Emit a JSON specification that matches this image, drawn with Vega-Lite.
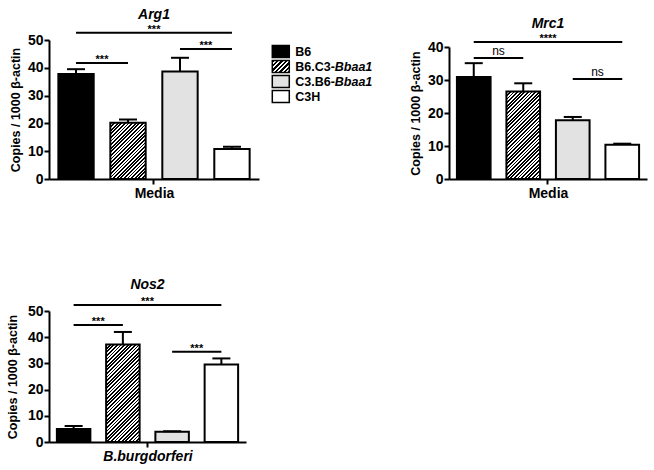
{
"$schema": "https://vega.github.io/schema/vega-lite/v6.json",
"background": "white",
"padding": {"left": 6, "top": 7, "right": 2, "bottom": 2},
"config": {
 "font": "Liberation Sans",
 "view": {"stroke": null},
 "axis": {"grid": false, "labelOverlap": false, "labelFlush": false, "domainColor": "black", "domainWidth": 2, "tickColor": "black", "tickWidth": 2, "tickSize": 5, "labelColor": "black", "labelFontSize": 14, "labelFontWeight": "bold", "labelFont": "Liberation Sans", "titleColor": "black", "titleFont": "Liberation Sans", "titleFontWeight": "bold"},
 "axisY": {"titleFontSize": 12.5, "titlePadding": 5, "labelPadding": 1},
 "axisX": {"titleFontSize": 14, "titlePadding": 1, "labels": false},
 "title": {"font": "Liberation Sans", "fontSize": 14, "fontWeight": "bold", "fontStyle": "italic", "color": "black", "frame": "group", "anchor": "middle"}
},
"datasets": {
 "bars": [
  {"gene": "Arg1", "genotype": "B6", "mean": 37.8, "hi": 39.5},
  {"gene": "Arg1", "genotype": "B6.C3-Bbaa1", "mean": 20.2, "hi": 21.4},
  {"gene": "Arg1", "genotype": "C3.B6-Bbaa1", "mean": 38.7, "hi": 43.6},
  {"gene": "Arg1", "genotype": "C3H", "mean": 10.8, "hi": 11.6},
  {"gene": "Mrc1", "genotype": "B6", "mean": 30.9, "hi": 35.1},
  {"gene": "Mrc1", "genotype": "B6.C3-Bbaa1", "mean": 26.5, "hi": 29.0},
  {"gene": "Mrc1", "genotype": "C3.B6-Bbaa1", "mean": 17.8, "hi": 18.8},
  {"gene": "Mrc1", "genotype": "C3H", "mean": 10.4, "hi": 10.7},
  {"gene": "Nos2", "genotype": "B6", "mean": 5.0, "hi": 6.1},
  {"gene": "Nos2", "genotype": "B6.C3-Bbaa1", "mean": 37.2, "hi": 42.0},
  {"gene": "Nos2", "genotype": "C3.B6-Bbaa1", "mean": 3.9, "hi": 4.1},
  {"gene": "Nos2", "genotype": "C3H", "mean": 29.6, "hi": 31.9}
 ],
 "sig": [
  {"gene": "Arg1", "from": "B6", "to": "B6.C3-Bbaa1", "level": 41.7, "label": "***"},
  {"gene": "Arg1", "from": "B6", "to": "C3H", "level": 52.6, "label": "***"},
  {"gene": "Arg1", "from": "C3.B6-Bbaa1", "to": "C3H", "level": 46.8, "label": "***"},
  {"gene": "Mrc1", "from": "B6", "to": "B6.C3-Bbaa1", "level": 36.7, "label": "ns"},
  {"gene": "Mrc1", "from": "B6", "to": "C3H", "level": 41.5, "label": "****"},
  {"gene": "Mrc1", "from": "C3.B6-Bbaa1", "to": "C3H", "level": 30.3, "label": "ns"},
  {"gene": "Nos2", "from": "B6", "to": "B6.C3-Bbaa1", "level": 44.7, "label": "***"},
  {"gene": "Nos2", "from": "B6", "to": "C3H", "level": 52.3, "label": "***"},
  {"gene": "Nos2", "from": "C3.B6-Bbaa1", "to": "C3H", "level": 34.4, "label": "***"}
 ],
 "legend": [
  {"genotype": "B6", "rank": 0, "prefix": "B6", "suffix": ""},
  {"genotype": "B6.C3-Bbaa1", "rank": 1, "prefix": "B6.C3-", "suffix": "Bbaa1"},
  {"genotype": "C3.B6-Bbaa1", "rank": 2, "prefix": "C3.B6-", "suffix": "Bbaa1"},
  {"genotype": "C3H", "rank": 3, "prefix": "C3H", "suffix": ""}
 ]
},
"spacing": 77,
"vconcat": [
 {
  "columns": 3,
  "align": "none",
  "spacing": 10,
  "concat": [
   {
    "width": 210, "height": 139,
    "title": {"text": "Arg1", "offset": 2},
    "layer": [
     {
      "data": {"name": "bars"}, "transform": [{"filter": "datum.gene === 'Arg1'"}],
      "mark": {"type": "bar", "stroke": "black", "strokeWidth": 2},
      "encoding": {
       "x": {"field": "genotype", "type": "nominal", "scale": {"domain": ["B6", "B6.C3-Bbaa1", "C3.B6-Bbaa1", "C3H"], "paddingInner": 0.32, "paddingOuter": 0.18}, "axis": {"title": "Media", "values": ["B6.C3-Bbaa1"], "bandPosition": 1.235}},
       "y": {"field": "mean", "type": "quantitative", "scale": {"domain": [0, 50], "nice": false}, "axis": {"title": "Copies / 1000 β-actin", "values": [0, 10, 20, 30, 40, 50]}},
       "fill": {"condition": [
        {"test": "datum.genotype === 'B6'", "value": "black"},
        {"test": "datum.genotype === 'B6.C3-Bbaa1'", "value": {"gradient": "linear", "x1": 0, "y1": 0, "x2": 1.156, "y2": 1.834, "stops": [{"offset":0,"color":"#000"},{"offset":0.0125,"color":"#000"},{"offset":0.0125,"color":"#fff"},{"offset":0.025,"color":"#fff"},{"offset":0.025,"color":"#000"},{"offset":0.0375,"color":"#000"},{"offset":0.0375,"color":"#fff"},{"offset":0.05,"color":"#fff"},{"offset":0.05,"color":"#000"},{"offset":0.0625,"color":"#000"},{"offset":0.0625,"color":"#fff"},{"offset":0.075,"color":"#fff"},{"offset":0.075,"color":"#000"},{"offset":0.0875,"color":"#000"},{"offset":0.0875,"color":"#fff"},{"offset":0.1,"color":"#fff"},{"offset":0.1,"color":"#000"},{"offset":0.1125,"color":"#000"},{"offset":0.1125,"color":"#fff"},{"offset":0.125,"color":"#fff"},{"offset":0.125,"color":"#000"},{"offset":0.1375,"color":"#000"},{"offset":0.1375,"color":"#fff"},{"offset":0.15,"color":"#fff"},{"offset":0.15,"color":"#000"},{"offset":0.1625,"color":"#000"},{"offset":0.1625,"color":"#fff"},{"offset":0.175,"color":"#fff"},{"offset":0.175,"color":"#000"},{"offset":0.1875,"color":"#000"},{"offset":0.1875,"color":"#fff"},{"offset":0.2,"color":"#fff"},{"offset":0.2,"color":"#000"},{"offset":0.2125,"color":"#000"},{"offset":0.2125,"color":"#fff"},{"offset":0.225,"color":"#fff"},{"offset":0.225,"color":"#000"},{"offset":0.2375,"color":"#000"},{"offset":0.2375,"color":"#fff"},{"offset":0.25,"color":"#fff"},{"offset":0.25,"color":"#000"},{"offset":0.2625,"color":"#000"},{"offset":0.2625,"color":"#fff"},{"offset":0.275,"color":"#fff"},{"offset":0.275,"color":"#000"},{"offset":0.2875,"color":"#000"},{"offset":0.2875,"color":"#fff"},{"offset":0.3,"color":"#fff"},{"offset":0.3,"color":"#000"},{"offset":0.3125,"color":"#000"},{"offset":0.3125,"color":"#fff"},{"offset":0.325,"color":"#fff"},{"offset":0.325,"color":"#000"},{"offset":0.3375,"color":"#000"},{"offset":0.3375,"color":"#fff"},{"offset":0.35,"color":"#fff"},{"offset":0.35,"color":"#000"},{"offset":0.3625,"color":"#000"},{"offset":0.3625,"color":"#fff"},{"offset":0.375,"color":"#fff"},{"offset":0.375,"color":"#000"},{"offset":0.3875,"color":"#000"},{"offset":0.3875,"color":"#fff"},{"offset":0.4,"color":"#fff"},{"offset":0.4,"color":"#000"},{"offset":0.4125,"color":"#000"},{"offset":0.4125,"color":"#fff"},{"offset":0.425,"color":"#fff"},{"offset":0.425,"color":"#000"},{"offset":0.4375,"color":"#000"},{"offset":0.4375,"color":"#fff"},{"offset":0.45,"color":"#fff"},{"offset":0.45,"color":"#000"},{"offset":0.4625,"color":"#000"},{"offset":0.4625,"color":"#fff"},{"offset":0.475,"color":"#fff"},{"offset":0.475,"color":"#000"},{"offset":0.4875,"color":"#000"},{"offset":0.4875,"color":"#fff"},{"offset":0.5,"color":"#fff"},{"offset":0.5,"color":"#000"},{"offset":0.5125,"color":"#000"},{"offset":0.5125,"color":"#fff"},{"offset":0.525,"color":"#fff"},{"offset":0.525,"color":"#000"},{"offset":0.5375,"color":"#000"},{"offset":0.5375,"color":"#fff"},{"offset":0.55,"color":"#fff"},{"offset":0.55,"color":"#000"},{"offset":0.5625,"color":"#000"},{"offset":0.5625,"color":"#fff"},{"offset":0.575,"color":"#fff"},{"offset":0.575,"color":"#000"},{"offset":0.5875,"color":"#000"},{"offset":0.5875,"color":"#fff"},{"offset":0.6,"color":"#fff"},{"offset":0.6,"color":"#000"},{"offset":0.6125,"color":"#000"},{"offset":0.6125,"color":"#fff"},{"offset":0.625,"color":"#fff"},{"offset":0.625,"color":"#000"},{"offset":0.6375,"color":"#000"},{"offset":0.6375,"color":"#fff"},{"offset":0.65,"color":"#fff"},{"offset":0.65,"color":"#000"},{"offset":0.6625,"color":"#000"},{"offset":0.6625,"color":"#fff"},{"offset":0.675,"color":"#fff"},{"offset":0.675,"color":"#000"},{"offset":0.6875,"color":"#000"},{"offset":0.6875,"color":"#fff"},{"offset":0.7,"color":"#fff"},{"offset":0.7,"color":"#000"},{"offset":0.7125,"color":"#000"},{"offset":0.7125,"color":"#fff"},{"offset":0.725,"color":"#fff"},{"offset":0.725,"color":"#000"},{"offset":0.7375,"color":"#000"},{"offset":0.7375,"color":"#fff"},{"offset":0.75,"color":"#fff"},{"offset":0.75,"color":"#000"},{"offset":0.7625,"color":"#000"},{"offset":0.7625,"color":"#fff"},{"offset":0.775,"color":"#fff"},{"offset":0.775,"color":"#000"},{"offset":0.7875,"color":"#000"},{"offset":0.7875,"color":"#fff"},{"offset":0.8,"color":"#fff"},{"offset":0.8,"color":"#000"},{"offset":0.8125,"color":"#000"},{"offset":0.8125,"color":"#fff"},{"offset":0.825,"color":"#fff"},{"offset":0.825,"color":"#000"},{"offset":0.8375,"color":"#000"},{"offset":0.8375,"color":"#fff"},{"offset":0.85,"color":"#fff"},{"offset":0.85,"color":"#000"},{"offset":0.8625,"color":"#000"},{"offset":0.8625,"color":"#fff"},{"offset":0.875,"color":"#fff"},{"offset":0.875,"color":"#000"},{"offset":0.8875,"color":"#000"},{"offset":0.8875,"color":"#fff"},{"offset":0.9,"color":"#fff"},{"offset":0.9,"color":"#000"},{"offset":0.9125,"color":"#000"},{"offset":0.9125,"color":"#fff"},{"offset":0.925,"color":"#fff"},{"offset":0.925,"color":"#000"},{"offset":0.9375,"color":"#000"},{"offset":0.9375,"color":"#fff"},{"offset":0.95,"color":"#fff"},{"offset":0.95,"color":"#000"},{"offset":0.9625,"color":"#000"},{"offset":0.9625,"color":"#fff"},{"offset":0.975,"color":"#fff"},{"offset":0.975,"color":"#000"},{"offset":0.9875,"color":"#000"},{"offset":0.9875,"color":"#fff"},{"offset":1,"color":"#fff"}]}},
        {"test": "datum.genotype === 'C3.B6-Bbaa1'", "value": "#e2e2e2"}
       ], "value": "white"}
      }
     },
     {
      "data": {"name": "bars"}, "transform": [{"filter": "datum.gene === 'Arg1'"}],
      "mark": {"type": "rule", "strokeWidth": 2, "color": "black"},
      "encoding": {
       "x": {"field": "genotype", "type": "nominal", "scale": {"domain": ["B6", "B6.C3-Bbaa1", "C3.B6-Bbaa1", "C3H"]}, "axis": {"title": "Media", "values": ["B6.C3-Bbaa1"], "bandPosition": 1.235}},
       "y": {"field": "mean", "type": "quantitative", "scale": {"domain": [0, 50]}, "axis": {"title": "Copies / 1000 β-actin", "values": [0, 10, 20, 30, 40, 50]}},
       "y2": {"field": "hi"}
      }
     },
     {
      "data": {"name": "bars"}, "transform": [{"filter": "datum.gene === 'Arg1'"}],
      "mark": {"type": "tick", "orient": "horizontal", "size": 18, "thickness": 2, "color": "black", "opacity": 1},
      "encoding": {
       "x": {"field": "genotype", "type": "nominal", "scale": {"domain": ["B6", "B6.C3-Bbaa1", "C3.B6-Bbaa1", "C3H"]}, "axis": {"title": "Media", "values": ["B6.C3-Bbaa1"], "bandPosition": 1.235}},
       "y": {"field": "hi", "type": "quantitative", "scale": {"domain": [0, 50]}, "axis": {"title": "Copies / 1000 β-actin", "values": [0, 10, 20, 30, 40, 50]}}
      }
     },
     {
      "data": {"name": "sig"}, "transform": [{"filter": "datum.gene === 'Arg1'"}],
      "mark": {"type": "rule", "strokeWidth": 2, "color": "black"},
      "encoding": {
       "x": {"field": "from", "type": "nominal", "scale": {"domain": ["B6", "B6.C3-Bbaa1", "C3.B6-Bbaa1", "C3H"]}, "axis": {"title": "Media", "values": ["B6.C3-Bbaa1"], "bandPosition": 1.235}},
       "x2": {"field": "to"},
       "y": {"field": "level", "type": "quantitative", "scale": {"domain": [0, 50]}, "axis": {"title": "Copies / 1000 β-actin", "values": [0, 10, 20, 30, 40, 50]}}
      }
     },
     {
      "data": {"name": "sig"}, "transform": [{"filter": "datum.gene === 'Arg1' && datum.to !== 'C3H' || datum.gene === 'Arg1' && datum.from !== 'B6'"}],
      "mark": {"type": "text", "fontSize": 11, "fontWeight": "bold", "baseline": "alphabetic", "dy": 0, "color": "black"},
      "encoding": {
       "x": {"field": "from", "type": "nominal", "bandPosition": 1.235, "scale": {"domain": ["B6", "B6.C3-Bbaa1", "C3.B6-Bbaa1", "C3H"]}, "axis": {"title": "Media", "values": ["B6.C3-Bbaa1"], "bandPosition": 1.235}},
       "y": {"field": "level", "type": "quantitative", "scale": {"domain": [0, 50]}, "axis": {"title": "Copies / 1000 β-actin", "values": [0, 10, 20, 30, 40, 50]}},
       "text": {"field": "label"}
      }
     },
     {
      "data": {"name": "sig"}, "transform": [{"filter": "datum.gene === 'Arg1' && datum.from === 'B6' && datum.to === 'C3H'"}],
      "mark": {"type": "text", "fontSize": 11, "fontWeight": "bold", "baseline": "alphabetic", "dy": 0, "color": "black"},
      "encoding": {
       "x": {"field": "from", "type": "nominal", "bandPosition": 2.706, "scale": {"domain": ["B6", "B6.C3-Bbaa1", "C3.B6-Bbaa1", "C3H"]}, "axis": {"title": "Media", "values": ["B6.C3-Bbaa1"], "bandPosition": 1.235}},
       "y": {"field": "level", "type": "quantitative", "scale": {"domain": [0, 50]}, "axis": {"title": "Copies / 1000 β-actin", "values": [0, 10, 20, 30, 40, 50]}},
       "text": {"field": "label"}
      }
     }
    ]
   },
   {
    "width": 127, "height": 136,
    "data": {"name": "legend"},
    "encoding": {"y": {"field": "rank", "type": "quantitative", "scale": {"domain": [-0.767, 8.3], "reverse": true, "nice": false, "zero": false}, "axis": null}},
    "layer": [
     {
      "mark": {"type": "point", "shape": "M-1,-0.7H1V0.7H-1Z", "size": 289, "filled": true, "opacity": 1, "stroke": "black", "strokeWidth": 1.5},
      "encoding": {
       "x": {"datum": 9, "type": "quantitative", "scale": {"domain": [0, 127]}, "axis": null},
       "fill": {"condition": [
        {"test": "datum.genotype === 'B6'", "value": "black"},
        {"test": "datum.genotype === 'B6.C3-Bbaa1'", "value": {"gradient": "linear", "x1": 0, "y1": 0, "x2": 1.767, "y2": 1.247, "stops": [{"offset":0,"color":"#000"},{"offset":0.05,"color":"#000"},{"offset":0.05,"color":"#fff"},{"offset":0.1,"color":"#fff"},{"offset":0.1,"color":"#000"},{"offset":0.15,"color":"#000"},{"offset":0.15,"color":"#fff"},{"offset":0.2,"color":"#fff"},{"offset":0.2,"color":"#000"},{"offset":0.25,"color":"#000"},{"offset":0.25,"color":"#fff"},{"offset":0.3,"color":"#fff"},{"offset":0.3,"color":"#000"},{"offset":0.35,"color":"#000"},{"offset":0.35,"color":"#fff"},{"offset":0.4,"color":"#fff"},{"offset":0.4,"color":"#000"},{"offset":0.45,"color":"#000"},{"offset":0.45,"color":"#fff"},{"offset":0.5,"color":"#fff"},{"offset":0.5,"color":"#000"},{"offset":0.55,"color":"#000"},{"offset":0.55,"color":"#fff"},{"offset":0.6,"color":"#fff"},{"offset":0.6,"color":"#000"},{"offset":0.65,"color":"#000"},{"offset":0.65,"color":"#fff"},{"offset":0.7,"color":"#fff"},{"offset":0.7,"color":"#000"},{"offset":0.75,"color":"#000"},{"offset":0.75,"color":"#fff"},{"offset":0.8,"color":"#fff"},{"offset":0.8,"color":"#000"},{"offset":0.85,"color":"#000"},{"offset":0.85,"color":"#fff"},{"offset":0.9,"color":"#fff"},{"offset":0.9,"color":"#000"},{"offset":0.95,"color":"#000"},{"offset":0.95,"color":"#fff"},{"offset":1,"color":"#fff"}]}},
        {"test": "datum.genotype === 'C3.B6-Bbaa1'", "value": "#e2e2e2"}
       ], "value": "white"}
      }
     },
     {
      "mark": {"type": "text", "align": "left", "dx": 14.5, "fontSize": 12.5, "fontWeight": "bold", "color": "black"},
      "encoding": {"x": {"datum": 9, "type": "quantitative"}, "text": {"field": "prefix"}}
     },
     {
      "mark": {"type": "text", "align": "left", "dx": 54, "fontSize": 12.5, "fontWeight": "bold", "fontStyle": "italic", "color": "black"},
      "encoding": {"x": {"datum": 9, "type": "quantitative"}, "text": {"field": "suffix"}}
     }
    ]
   },
   {
    "width": 198, "height": 139,
    "title": {"text": "Mrc1", "offset": 2},
    "layer": [
     {
      "data": {"name": "bars"}, "transform": [{"filter": "datum.gene === 'Mrc1'"}],
      "mark": {"type": "bar", "stroke": "black", "strokeWidth": 2},
      "encoding": {
       "x": {"field": "genotype", "type": "nominal", "scale": {"domain": ["B6", "B6.C3-Bbaa1", "C3.B6-Bbaa1", "C3H"], "paddingInner": 0.32, "paddingOuter": 0.16}, "axis": {"title": "Media", "values": ["B6.C3-Bbaa1"], "bandPosition": 1.235}},
       "y": {"field": "mean", "type": "quantitative", "scale": {"domain": [0, 40], "range": [139, 7], "nice": false}, "axis": {"title": "Copies / 1000 β-actin", "values": [0, 10, 20, 30, 40]}},
       "fill": {"condition": [
        {"test": "datum.genotype === 'B6'", "value": "black"},
        {"test": "datum.genotype === 'B6.C3-Bbaa1'", "value": {"gradient": "linear", "x1": 0, "y1": 0, "x2": 0.552, "y2": 1.434, "stops": [{"offset":0,"color":"#000"},{"offset":0.0125,"color":"#000"},{"offset":0.0125,"color":"#fff"},{"offset":0.025,"color":"#fff"},{"offset":0.025,"color":"#000"},{"offset":0.0375,"color":"#000"},{"offset":0.0375,"color":"#fff"},{"offset":0.05,"color":"#fff"},{"offset":0.05,"color":"#000"},{"offset":0.0625,"color":"#000"},{"offset":0.0625,"color":"#fff"},{"offset":0.075,"color":"#fff"},{"offset":0.075,"color":"#000"},{"offset":0.0875,"color":"#000"},{"offset":0.0875,"color":"#fff"},{"offset":0.1,"color":"#fff"},{"offset":0.1,"color":"#000"},{"offset":0.1125,"color":"#000"},{"offset":0.1125,"color":"#fff"},{"offset":0.125,"color":"#fff"},{"offset":0.125,"color":"#000"},{"offset":0.1375,"color":"#000"},{"offset":0.1375,"color":"#fff"},{"offset":0.15,"color":"#fff"},{"offset":0.15,"color":"#000"},{"offset":0.1625,"color":"#000"},{"offset":0.1625,"color":"#fff"},{"offset":0.175,"color":"#fff"},{"offset":0.175,"color":"#000"},{"offset":0.1875,"color":"#000"},{"offset":0.1875,"color":"#fff"},{"offset":0.2,"color":"#fff"},{"offset":0.2,"color":"#000"},{"offset":0.2125,"color":"#000"},{"offset":0.2125,"color":"#fff"},{"offset":0.225,"color":"#fff"},{"offset":0.225,"color":"#000"},{"offset":0.2375,"color":"#000"},{"offset":0.2375,"color":"#fff"},{"offset":0.25,"color":"#fff"},{"offset":0.25,"color":"#000"},{"offset":0.2625,"color":"#000"},{"offset":0.2625,"color":"#fff"},{"offset":0.275,"color":"#fff"},{"offset":0.275,"color":"#000"},{"offset":0.2875,"color":"#000"},{"offset":0.2875,"color":"#fff"},{"offset":0.3,"color":"#fff"},{"offset":0.3,"color":"#000"},{"offset":0.3125,"color":"#000"},{"offset":0.3125,"color":"#fff"},{"offset":0.325,"color":"#fff"},{"offset":0.325,"color":"#000"},{"offset":0.3375,"color":"#000"},{"offset":0.3375,"color":"#fff"},{"offset":0.35,"color":"#fff"},{"offset":0.35,"color":"#000"},{"offset":0.3625,"color":"#000"},{"offset":0.3625,"color":"#fff"},{"offset":0.375,"color":"#fff"},{"offset":0.375,"color":"#000"},{"offset":0.3875,"color":"#000"},{"offset":0.3875,"color":"#fff"},{"offset":0.4,"color":"#fff"},{"offset":0.4,"color":"#000"},{"offset":0.4125,"color":"#000"},{"offset":0.4125,"color":"#fff"},{"offset":0.425,"color":"#fff"},{"offset":0.425,"color":"#000"},{"offset":0.4375,"color":"#000"},{"offset":0.4375,"color":"#fff"},{"offset":0.45,"color":"#fff"},{"offset":0.45,"color":"#000"},{"offset":0.4625,"color":"#000"},{"offset":0.4625,"color":"#fff"},{"offset":0.475,"color":"#fff"},{"offset":0.475,"color":"#000"},{"offset":0.4875,"color":"#000"},{"offset":0.4875,"color":"#fff"},{"offset":0.5,"color":"#fff"},{"offset":0.5,"color":"#000"},{"offset":0.5125,"color":"#000"},{"offset":0.5125,"color":"#fff"},{"offset":0.525,"color":"#fff"},{"offset":0.525,"color":"#000"},{"offset":0.5375,"color":"#000"},{"offset":0.5375,"color":"#fff"},{"offset":0.55,"color":"#fff"},{"offset":0.55,"color":"#000"},{"offset":0.5625,"color":"#000"},{"offset":0.5625,"color":"#fff"},{"offset":0.575,"color":"#fff"},{"offset":0.575,"color":"#000"},{"offset":0.5875,"color":"#000"},{"offset":0.5875,"color":"#fff"},{"offset":0.6,"color":"#fff"},{"offset":0.6,"color":"#000"},{"offset":0.6125,"color":"#000"},{"offset":0.6125,"color":"#fff"},{"offset":0.625,"color":"#fff"},{"offset":0.625,"color":"#000"},{"offset":0.6375,"color":"#000"},{"offset":0.6375,"color":"#fff"},{"offset":0.65,"color":"#fff"},{"offset":0.65,"color":"#000"},{"offset":0.6625,"color":"#000"},{"offset":0.6625,"color":"#fff"},{"offset":0.675,"color":"#fff"},{"offset":0.675,"color":"#000"},{"offset":0.6875,"color":"#000"},{"offset":0.6875,"color":"#fff"},{"offset":0.7,"color":"#fff"},{"offset":0.7,"color":"#000"},{"offset":0.7125,"color":"#000"},{"offset":0.7125,"color":"#fff"},{"offset":0.725,"color":"#fff"},{"offset":0.725,"color":"#000"},{"offset":0.7375,"color":"#000"},{"offset":0.7375,"color":"#fff"},{"offset":0.75,"color":"#fff"},{"offset":0.75,"color":"#000"},{"offset":0.7625,"color":"#000"},{"offset":0.7625,"color":"#fff"},{"offset":0.775,"color":"#fff"},{"offset":0.775,"color":"#000"},{"offset":0.7875,"color":"#000"},{"offset":0.7875,"color":"#fff"},{"offset":0.8,"color":"#fff"},{"offset":0.8,"color":"#000"},{"offset":0.8125,"color":"#000"},{"offset":0.8125,"color":"#fff"},{"offset":0.825,"color":"#fff"},{"offset":0.825,"color":"#000"},{"offset":0.8375,"color":"#000"},{"offset":0.8375,"color":"#fff"},{"offset":0.85,"color":"#fff"},{"offset":0.85,"color":"#000"},{"offset":0.8625,"color":"#000"},{"offset":0.8625,"color":"#fff"},{"offset":0.875,"color":"#fff"},{"offset":0.875,"color":"#000"},{"offset":0.8875,"color":"#000"},{"offset":0.8875,"color":"#fff"},{"offset":0.9,"color":"#fff"},{"offset":0.9,"color":"#000"},{"offset":0.9125,"color":"#000"},{"offset":0.9125,"color":"#fff"},{"offset":0.925,"color":"#fff"},{"offset":0.925,"color":"#000"},{"offset":0.9375,"color":"#000"},{"offset":0.9375,"color":"#fff"},{"offset":0.95,"color":"#fff"},{"offset":0.95,"color":"#000"},{"offset":0.9625,"color":"#000"},{"offset":0.9625,"color":"#fff"},{"offset":0.975,"color":"#fff"},{"offset":0.975,"color":"#000"},{"offset":0.9875,"color":"#000"},{"offset":0.9875,"color":"#fff"},{"offset":1,"color":"#fff"}]}},
        {"test": "datum.genotype === 'C3.B6-Bbaa1'", "value": "#e2e2e2"}
       ], "value": "white"}
      }
     },
     {
      "data": {"name": "bars"}, "transform": [{"filter": "datum.gene === 'Mrc1'"}],
      "mark": {"type": "rule", "strokeWidth": 2, "color": "black"},
      "encoding": {
       "x": {"field": "genotype", "type": "nominal", "scale": {"domain": ["B6", "B6.C3-Bbaa1", "C3.B6-Bbaa1", "C3H"]}, "axis": {"title": "Media", "values": ["B6.C3-Bbaa1"], "bandPosition": 1.235}},
       "y": {"field": "mean", "type": "quantitative", "scale": {"domain": [0, 40], "range": [139, 7]}, "axis": {"title": "Copies / 1000 β-actin", "values": [0, 10, 20, 30, 40]}},
       "y2": {"field": "hi"}
      }
     },
     {
      "data": {"name": "bars"}, "transform": [{"filter": "datum.gene === 'Mrc1'"}],
      "mark": {"type": "tick", "orient": "horizontal", "size": 18, "thickness": 2, "color": "black", "opacity": 1},
      "encoding": {
       "x": {"field": "genotype", "type": "nominal", "scale": {"domain": ["B6", "B6.C3-Bbaa1", "C3.B6-Bbaa1", "C3H"]}, "axis": {"title": "Media", "values": ["B6.C3-Bbaa1"], "bandPosition": 1.235}},
       "y": {"field": "hi", "type": "quantitative", "scale": {"domain": [0, 40], "range": [139, 7]}, "axis": {"title": "Copies / 1000 β-actin", "values": [0, 10, 20, 30, 40]}}
      }
     },
     {
      "data": {"name": "sig"}, "transform": [{"filter": "datum.gene === 'Mrc1'"}],
      "mark": {"type": "rule", "strokeWidth": 2, "color": "black"},
      "encoding": {
       "x": {"field": "from", "type": "nominal", "scale": {"domain": ["B6", "B6.C3-Bbaa1", "C3.B6-Bbaa1", "C3H"]}, "axis": {"title": "Media", "values": ["B6.C3-Bbaa1"], "bandPosition": 1.235}},
       "x2": {"field": "to"},
       "y": {"field": "level", "type": "quantitative", "scale": {"domain": [0, 40], "range": [139, 7]}, "axis": {"title": "Copies / 1000 β-actin", "values": [0, 10, 20, 30, 40]}}
      }
     },
     {
      "data": {"name": "sig"}, "transform": [{"filter": "datum.gene === 'Mrc1' && datum.label === 'ns'"}],
      "mark": {"type": "text", "fontSize": 12, "baseline": "alphabetic", "dy": -3, "color": "black"},
      "encoding": {
       "x": {"field": "from", "type": "nominal", "bandPosition": 1.235, "scale": {"domain": ["B6", "B6.C3-Bbaa1", "C3.B6-Bbaa1", "C3H"]}, "axis": {"title": "Media", "values": ["B6.C3-Bbaa1"], "bandPosition": 1.235}},
       "y": {"field": "level", "type": "quantitative", "scale": {"domain": [0, 40], "range": [139, 7]}, "axis": {"title": "Copies / 1000 β-actin", "values": [0, 10, 20, 30, 40]}},
       "text": {"field": "label"}
      }
     },
     {
      "data": {"name": "sig"}, "transform": [{"filter": "datum.gene === 'Mrc1' && datum.from === 'B6' && datum.to === 'C3H'"}],
      "mark": {"type": "text", "fontSize": 11, "fontWeight": "bold", "baseline": "alphabetic", "dy": 0, "color": "black"},
      "encoding": {
       "x": {"field": "from", "type": "nominal", "bandPosition": 2.706, "scale": {"domain": ["B6", "B6.C3-Bbaa1", "C3.B6-Bbaa1", "C3H"]}, "axis": {"title": "Media", "values": ["B6.C3-Bbaa1"], "bandPosition": 1.235}},
       "y": {"field": "level", "type": "quantitative", "scale": {"domain": [0, 40], "range": [139, 7]}, "axis": {"title": "Copies / 1000 β-actin", "values": [0, 10, 20, 30, 40]}},
       "text": {"field": "label"}
      }
     }
    ]
   }
  ]
 },
 {
  "width": 197, "height": 131,
  "title": {"text": "Nos2", "offset": 4},
  "layer": [
   {
    "data": {"name": "bars"}, "transform": [{"filter": "datum.gene === 'Nos2'"}],
    "mark": {"type": "bar", "stroke": "black", "strokeWidth": 2},
    "encoding": {
     "x": {"field": "genotype", "type": "nominal", "scale": {"domain": ["B6", "B6.C3-Bbaa1", "C3.B6-Bbaa1", "C3H"], "paddingInner": 0.32, "paddingOuter": 0.16}, "axis": {"title": "B.burgdorferi", "titleFontStyle": "italic", "values": ["B6.C3-Bbaa1"], "bandPosition": 1.235}},
     "y": {"field": "mean", "type": "quantitative", "scale": {"domain": [0, 50], "nice": false}, "axis": {"title": "Copies / 1000 β-actin", "titlePadding": 8, "values": [0, 10, 20, 30, 40, 50]}},
     "fill": {"condition": [
      {"test": "datum.genotype === 'B6'", "value": "black"},
      {"test": "datum.genotype === 'B6.C3-Bbaa1'", "value": {"gradient": "linear", "x1": 0, "y1": 0, "x2": 0.454, "y2": 1.321, "stops": [{"offset":0,"color":"#000"},{"offset":0.0125,"color":"#000"},{"offset":0.0125,"color":"#fff"},{"offset":0.025,"color":"#fff"},{"offset":0.025,"color":"#000"},{"offset":0.0375,"color":"#000"},{"offset":0.0375,"color":"#fff"},{"offset":0.05,"color":"#fff"},{"offset":0.05,"color":"#000"},{"offset":0.0625,"color":"#000"},{"offset":0.0625,"color":"#fff"},{"offset":0.075,"color":"#fff"},{"offset":0.075,"color":"#000"},{"offset":0.0875,"color":"#000"},{"offset":0.0875,"color":"#fff"},{"offset":0.1,"color":"#fff"},{"offset":0.1,"color":"#000"},{"offset":0.1125,"color":"#000"},{"offset":0.1125,"color":"#fff"},{"offset":0.125,"color":"#fff"},{"offset":0.125,"color":"#000"},{"offset":0.1375,"color":"#000"},{"offset":0.1375,"color":"#fff"},{"offset":0.15,"color":"#fff"},{"offset":0.15,"color":"#000"},{"offset":0.1625,"color":"#000"},{"offset":0.1625,"color":"#fff"},{"offset":0.175,"color":"#fff"},{"offset":0.175,"color":"#000"},{"offset":0.1875,"color":"#000"},{"offset":0.1875,"color":"#fff"},{"offset":0.2,"color":"#fff"},{"offset":0.2,"color":"#000"},{"offset":0.2125,"color":"#000"},{"offset":0.2125,"color":"#fff"},{"offset":0.225,"color":"#fff"},{"offset":0.225,"color":"#000"},{"offset":0.2375,"color":"#000"},{"offset":0.2375,"color":"#fff"},{"offset":0.25,"color":"#fff"},{"offset":0.25,"color":"#000"},{"offset":0.2625,"color":"#000"},{"offset":0.2625,"color":"#fff"},{"offset":0.275,"color":"#fff"},{"offset":0.275,"color":"#000"},{"offset":0.2875,"color":"#000"},{"offset":0.2875,"color":"#fff"},{"offset":0.3,"color":"#fff"},{"offset":0.3,"color":"#000"},{"offset":0.3125,"color":"#000"},{"offset":0.3125,"color":"#fff"},{"offset":0.325,"color":"#fff"},{"offset":0.325,"color":"#000"},{"offset":0.3375,"color":"#000"},{"offset":0.3375,"color":"#fff"},{"offset":0.35,"color":"#fff"},{"offset":0.35,"color":"#000"},{"offset":0.3625,"color":"#000"},{"offset":0.3625,"color":"#fff"},{"offset":0.375,"color":"#fff"},{"offset":0.375,"color":"#000"},{"offset":0.3875,"color":"#000"},{"offset":0.3875,"color":"#fff"},{"offset":0.4,"color":"#fff"},{"offset":0.4,"color":"#000"},{"offset":0.4125,"color":"#000"},{"offset":0.4125,"color":"#fff"},{"offset":0.425,"color":"#fff"},{"offset":0.425,"color":"#000"},{"offset":0.4375,"color":"#000"},{"offset":0.4375,"color":"#fff"},{"offset":0.45,"color":"#fff"},{"offset":0.45,"color":"#000"},{"offset":0.4625,"color":"#000"},{"offset":0.4625,"color":"#fff"},{"offset":0.475,"color":"#fff"},{"offset":0.475,"color":"#000"},{"offset":0.4875,"color":"#000"},{"offset":0.4875,"color":"#fff"},{"offset":0.5,"color":"#fff"},{"offset":0.5,"color":"#000"},{"offset":0.5125,"color":"#000"},{"offset":0.5125,"color":"#fff"},{"offset":0.525,"color":"#fff"},{"offset":0.525,"color":"#000"},{"offset":0.5375,"color":"#000"},{"offset":0.5375,"color":"#fff"},{"offset":0.55,"color":"#fff"},{"offset":0.55,"color":"#000"},{"offset":0.5625,"color":"#000"},{"offset":0.5625,"color":"#fff"},{"offset":0.575,"color":"#fff"},{"offset":0.575,"color":"#000"},{"offset":0.5875,"color":"#000"},{"offset":0.5875,"color":"#fff"},{"offset":0.6,"color":"#fff"},{"offset":0.6,"color":"#000"},{"offset":0.6125,"color":"#000"},{"offset":0.6125,"color":"#fff"},{"offset":0.625,"color":"#fff"},{"offset":0.625,"color":"#000"},{"offset":0.6375,"color":"#000"},{"offset":0.6375,"color":"#fff"},{"offset":0.65,"color":"#fff"},{"offset":0.65,"color":"#000"},{"offset":0.6625,"color":"#000"},{"offset":0.6625,"color":"#fff"},{"offset":0.675,"color":"#fff"},{"offset":0.675,"color":"#000"},{"offset":0.6875,"color":"#000"},{"offset":0.6875,"color":"#fff"},{"offset":0.7,"color":"#fff"},{"offset":0.7,"color":"#000"},{"offset":0.7125,"color":"#000"},{"offset":0.7125,"color":"#fff"},{"offset":0.725,"color":"#fff"},{"offset":0.725,"color":"#000"},{"offset":0.7375,"color":"#000"},{"offset":0.7375,"color":"#fff"},{"offset":0.75,"color":"#fff"},{"offset":0.75,"color":"#000"},{"offset":0.7625,"color":"#000"},{"offset":0.7625,"color":"#fff"},{"offset":0.775,"color":"#fff"},{"offset":0.775,"color":"#000"},{"offset":0.7875,"color":"#000"},{"offset":0.7875,"color":"#fff"},{"offset":0.8,"color":"#fff"},{"offset":0.8,"color":"#000"},{"offset":0.8125,"color":"#000"},{"offset":0.8125,"color":"#fff"},{"offset":0.825,"color":"#fff"},{"offset":0.825,"color":"#000"},{"offset":0.8375,"color":"#000"},{"offset":0.8375,"color":"#fff"},{"offset":0.85,"color":"#fff"},{"offset":0.85,"color":"#000"},{"offset":0.8625,"color":"#000"},{"offset":0.8625,"color":"#fff"},{"offset":0.875,"color":"#fff"},{"offset":0.875,"color":"#000"},{"offset":0.8875,"color":"#000"},{"offset":0.8875,"color":"#fff"},{"offset":0.9,"color":"#fff"},{"offset":0.9,"color":"#000"},{"offset":0.9125,"color":"#000"},{"offset":0.9125,"color":"#fff"},{"offset":0.925,"color":"#fff"},{"offset":0.925,"color":"#000"},{"offset":0.9375,"color":"#000"},{"offset":0.9375,"color":"#fff"},{"offset":0.95,"color":"#fff"},{"offset":0.95,"color":"#000"},{"offset":0.9625,"color":"#000"},{"offset":0.9625,"color":"#fff"},{"offset":0.975,"color":"#fff"},{"offset":0.975,"color":"#000"},{"offset":0.9875,"color":"#000"},{"offset":0.9875,"color":"#fff"},{"offset":1,"color":"#fff"}]}},
      {"test": "datum.genotype === 'C3.B6-Bbaa1'", "value": "#e2e2e2"}
     ], "value": "white"}
    }
   },
   {
    "data": {"name": "bars"}, "transform": [{"filter": "datum.gene === 'Nos2'"}],
    "mark": {"type": "rule", "strokeWidth": 2, "color": "black"},
    "encoding": {
     "x": {"field": "genotype", "type": "nominal", "scale": {"domain": ["B6", "B6.C3-Bbaa1", "C3.B6-Bbaa1", "C3H"]}, "axis": {"title": "B.burgdorferi", "titleFontStyle": "italic", "values": ["B6.C3-Bbaa1"], "bandPosition": 1.235}},
     "y": {"field": "mean", "type": "quantitative", "scale": {"domain": [0, 50]}, "axis": {"title": "Copies / 1000 β-actin", "titlePadding": 8, "values": [0, 10, 20, 30, 40, 50]}},
     "y2": {"field": "hi"}
    }
   },
   {
    "data": {"name": "bars"}, "transform": [{"filter": "datum.gene === 'Nos2'"}],
    "mark": {"type": "tick", "orient": "horizontal", "size": 18, "thickness": 2, "color": "black", "opacity": 1},
    "encoding": {
     "x": {"field": "genotype", "type": "nominal", "scale": {"domain": ["B6", "B6.C3-Bbaa1", "C3.B6-Bbaa1", "C3H"]}, "axis": {"title": "B.burgdorferi", "titleFontStyle": "italic", "values": ["B6.C3-Bbaa1"], "bandPosition": 1.235}},
     "y": {"field": "hi", "type": "quantitative", "scale": {"domain": [0, 50]}, "axis": {"title": "Copies / 1000 β-actin", "titlePadding": 8, "values": [0, 10, 20, 30, 40, 50]}}
    }
   },
   {
    "data": {"name": "sig"}, "transform": [{"filter": "datum.gene === 'Nos2'"}],
    "mark": {"type": "rule", "strokeWidth": 2, "color": "black"},
    "encoding": {
     "x": {"field": "from", "type": "nominal", "scale": {"domain": ["B6", "B6.C3-Bbaa1", "C3.B6-Bbaa1", "C3H"]}, "axis": {"title": "B.burgdorferi", "titleFontStyle": "italic", "values": ["B6.C3-Bbaa1"], "bandPosition": 1.235}},
     "x2": {"field": "to"},
     "y": {"field": "level", "type": "quantitative", "scale": {"domain": [0, 50]}, "axis": {"title": "Copies / 1000 β-actin", "titlePadding": 8, "values": [0, 10, 20, 30, 40, 50]}}
    }
   },
   {
    "data": {"name": "sig"}, "transform": [{"filter": "datum.gene === 'Nos2' && datum.to !== 'C3H' || datum.gene === 'Nos2' && datum.from !== 'B6'"}],
    "mark": {"type": "text", "fontSize": 11, "fontWeight": "bold", "baseline": "alphabetic", "dy": 0, "color": "black"},
    "encoding": {
     "x": {"field": "from", "type": "nominal", "bandPosition": 1.235, "scale": {"domain": ["B6", "B6.C3-Bbaa1", "C3.B6-Bbaa1", "C3H"]}, "axis": {"title": "B.burgdorferi", "titleFontStyle": "italic", "values": ["B6.C3-Bbaa1"], "bandPosition": 1.235}},
     "y": {"field": "level", "type": "quantitative", "scale": {"domain": [0, 50]}, "axis": {"title": "Copies / 1000 β-actin", "titlePadding": 8, "values": [0, 10, 20, 30, 40, 50]}},
     "text": {"field": "label"}
    }
   },
   {
    "data": {"name": "sig"}, "transform": [{"filter": "datum.gene === 'Nos2' && datum.from === 'B6' && datum.to === 'C3H'"}],
    "mark": {"type": "text", "fontSize": 11, "fontWeight": "bold", "baseline": "alphabetic", "dy": 0, "color": "black"},
    "encoding": {
     "x": {"field": "from", "type": "nominal", "bandPosition": 2.706, "scale": {"domain": ["B6", "B6.C3-Bbaa1", "C3.B6-Bbaa1", "C3H"]}, "axis": {"title": "B.burgdorferi", "titleFontStyle": "italic", "values": ["B6.C3-Bbaa1"], "bandPosition": 1.235}},
     "y": {"field": "level", "type": "quantitative", "scale": {"domain": [0, 50]}, "axis": {"title": "Copies / 1000 β-actin", "titlePadding": 8, "values": [0, 10, 20, 30, 40, 50]}},
     "text": {"field": "label"}
    }
   }
  ]
 }
]
}
